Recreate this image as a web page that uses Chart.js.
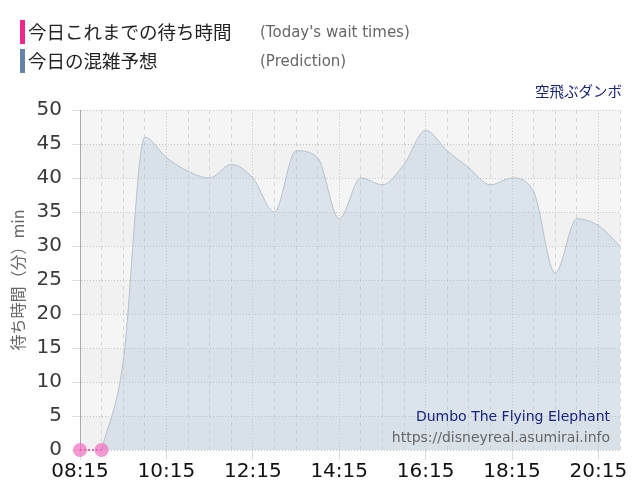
<!DOCTYPE html>
<html>
<head>
<meta charset="utf-8">
<script src="https://cdn.jsdelivr.net/npm/chart.js@4"></script>
<style>
  body { margin: 0; background: #fff; font-family: "Noto Sans CJK JP", "Noto Sans", sans-serif; }
  #wrap { position: relative; width: 640px; height: 500px; }
  #chart { position: absolute; left: 0; top: 0; }
  .row { position: absolute; left: 20px; height: 24px; }
  .bar { position: absolute; left: 0; top: 0; width: 5px; height: 24px; }
  .jp { position: absolute; left: 8px; top: -1px; font-size: 18.5px; line-height: 24px; color: #222; white-space: nowrap; }
  .en { position: absolute; left: 240px; top: 0; font-size: 15px; line-height: 24px; color: #666; white-space: nowrap; font-family: "DejaVu Sans", sans-serif; }
  #name { position: absolute; right: 18px; top: 80px; font-size: 14.5px; color: #1a237e; }
</style>
</head>
<body>
<div id="wrap">
  <canvas id="chart" width="640" height="500"></canvas>
  <div class="row" style="top:20px"><div class="bar" style="background:#f0288c"></div><span class="jp">今日これまでの待ち時間</span><span class="en">(Today's wait times)</span></div>
  <div class="row" style="top:49px"><div class="bar" style="background:#6482ab"></div><span class="jp">今日の混雑予想</span><span class="en">(Prediction)</span></div>
  <div id="name">空飛ぶダンボ</div>
</div>
<script>
// time slots, every 30 minutes
const times = ['08:15','08:45','09:15','09:45','10:15','10:45','11:15','11:45','12:15','12:45',
               '13:15','13:45','14:15','14:45','15:15','15:45','16:15','16:45','17:15','17:45',
               '18:15','18:45','19:15','19:45','20:15','20:45'];
const waitToday = [0, 0];
const prediction = [null, 0, 13, 46, 43, 41, 40, 42, 40, 35,
                    44, 43, 34, 40, 39, 42, 47, 44, 41.5, 39,
                    40, 38, 26, 34, 33, 30];
const yTicks = [0, 5, 10, 15, 20, 25, 30, 35, 40, 45, 50];

const isLabelled = (i) => i % 4 === 0;

// grey plot background with alternating bands
const bgPlugin = {
    id: 'bands',
    beforeDraw(chart) {
        const { ctx, chartArea: a, scales: { y } } = chart;
        ctx.save();
        ctx.fillStyle = '#f5f5f5';
        ctx.fillRect(a.left, a.top, a.right - a.left, a.bottom - a.top);
        ctx.fillStyle = '#f1f1f1';
        for (let v = 0; v < 50; v += 10) {
            const t = y.getPixelForValue(v + 5), b = y.getPixelForValue(v);
            ctx.fillRect(a.left, t, a.right - a.left, b - t);
        }
        ctx.restore();
    },
    afterDatasetsDraw(chart) {
        const { ctx, chartArea: a } = chart;
        ctx.save();
        ctx.textAlign = 'right';
        ctx.font = '14px "DejaVu Sans", sans-serif';
        ctx.fillStyle = '#1a237e';
        ctx.fillText('Dumbo The Flying Elephant', a.right - 10, 421);
        ctx.fillStyle = '#666';
        ctx.fillText('https://disneyreal.asumirai.info', a.right - 10, 442);
        ctx.restore();
    }
};

new Chart(document.getElementById('chart'), {
    type: 'line',
    data: {
        labels: times,
        datasets: [{
            data: waitToday,
            borderColor: '#d83890',
            borderWidth: 1.5,
            borderDash: [2, 2],
            pointRadius: 7,
            pointBackgroundColor: 'rgba(240,110,190,0.7)',
            pointBorderWidth: 0,
            clip: false,
            fill: false
        }, {
            data: prediction,
            borderColor: '#b4c2cf',
            borderWidth: 1,
            backgroundColor: 'rgba(175,198,218,0.38)',
            fill: 'origin',
            pointRadius: 0,
            cubicInterpolationMode: 'monotone'
        }]
    },
    options: {
        responsive: false,
        animation: false,
        layout: { padding: { top: 110, right: 20, left: 8, bottom: 0 } },
        plugins: { legend: { display: false }, tooltip: { enabled: false } },
        scales: {
            x: {
                offset: false,
                afterFit(s) { s.height = 50; },
                border: { display: false, dash: (c) => isLabelled(c.index) ? [1, 2] : [4, 4] },
                grid: {
                    color: (c) => isLabelled(c.index) ? '#c8c8c8' : '#d6d6d6',
                    tickLength: 10,
                    tickColor: (c) => isLabelled(c.index) ? '#dcdcdc' : 'transparent'
                },
                ticks: {
                    autoSkip: false,
                    maxRotation: 0,
                    padding: 0,
                    color: '#111',
                    font: { size: 20, family: 'DejaVu Sans' },
                    callback: (v, i) => isLabelled(i) ? times[i] : ''
                }
            },
            y: {
                min: 0,
                max: 50,
                afterFit(s) { s.width = 72; },
                afterBuildTicks(s) { s.ticks = yTicks.map(v => ({ value: v })); },
                border: { display: true, color: '#aaa', width: 1, dash: [1, 2] },
                grid: { color: '#c4c4c4', tickLength: 8, tickColor: '#e0e0e0' },
                ticks: {
                    color: '#3a3a3a',
                    padding: 10,
                    font: { size: 20, family: 'DejaVu Sans' }
                },
                title: {
                    display: true,
                    text: '待ち時間（分）min',
                    color: '#666',
                    padding: { top: 0, bottom: 0 },
                    font: { size: 16, family: 'Noto Sans CJK JP' }
                }
            }
        }
    },
    plugins: [bgPlugin]
});
</script>
</body>
</html>
